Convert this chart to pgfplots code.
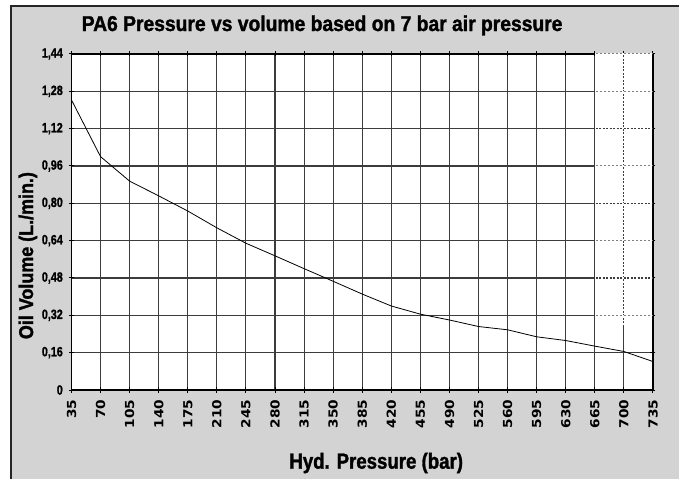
\documentclass[border=0pt]{standalone}
\usepackage{pgfplots}
\pgfplotsset{compat=1.18}
\usepackage{fontspec}
\setmainfont{Liberation Sans}
\newfontfamily\condbold{Liberation Sans Bold}[FakeStretch=0.8, FakeBold=1.2]
\newfontfamily\titlebold{Liberation Sans Bold}[FakeStretch=0.9, FakeBold=1.4]
\newfontfamily\labelbold{Liberation Sans Bold}[FakeStretch=0.85, FakeBold=1.4]
\newfontfamily\widebold{DejaVu Sans Bold}[FakeStretch=1.1]
\definecolor{bggray}{RGB}{211,211,212}
\definecolor{gridgray}{RGB}{60,60,60}
\begin{document}
\begin{tikzpicture}
\fill[white] (0bp,0bp) rectangle (679bp,479bp);
\filldraw[fill=bggray, draw=black!85, line width=2.4bp] (11bp,-20bp) rectangle (700bp,473bp);
\begin{axis}[
  at={(71.5bp,89bp)}, anchor=south west,
  scale only axis, width=581.5bp, height=336bp,
  xmin=35, xmax=735, ymin=0, ymax=1.44,
  /pgf/number format/assume math mode=true,
  axis background/.style={fill=white},
  xtick={35,70,105,140,175,210,245,280,315,350,385,420,455,490,525,560,595,630,665,700,735},
  xticklabels={35,70,105,140,175,210,245,280,315,350,385,420,455,490,525,560,595,630,665,700,735},
  ytick={0,0.16,0.32,0.48,0.64,0.80,0.96,1.12,1.28,1.44},
  yticklabels={0,{0,16},{0,32},{0,48},{0,64},{0,80},{0,96},{1,12},{1,28},{1,44}},
  grid=major,
  grid style={gridgray, line width=1.1bp},
  axis line style={black, line width=1.2bp},
  x tick style={black, line width=1bp},
  y tick style={black, line width=1bp},
  tick align=center,
  major tick length=5bp,
  xticklabel style={rotate=90, anchor=east, font=\widebold\fontsize{12.5}{12.5}\selectfont, inner sep=0pt},
  yticklabel style={font=\condbold\fontsize{13.5}{13.5}\selectfont, inner sep=0pt, xshift=-6bp},
  xticklabel shift=7bp,
  title={PA6 Pressure vs volume based on 7 bar air pressure},
  title style={font=\titlebold\fontsize{21.5}{21.5}\selectfont, at={(axis description cs:0.431,1)}, anchor=base, yshift=17bp, inner sep=0pt},
  xlabel={Hyd. Pressure (bar)},
  xlabel style={font=\labelbold\fontsize{22}{22}\selectfont, at={(axis description cs:0.524,0)}, anchor=center, yshift=-73bp, inner sep=0pt},
  ylabel={Oil Volume (L./min.)},
  ylabel style={font=\titlebold\fontsize{20}{20}\selectfont, at={(axis description cs:-0.075,0.40)}, anchor=center, inner sep=0pt},
]
% dashed grid artefact near the right edge
\draw[white, line width=1.4bp] (axis cs:700,0.27) -- (axis cs:700,1.435);
\draw[gridgray, line width=1.1bp, dash pattern=on 2bp off 1.5bp] (axis cs:700,0.27) -- (axis cs:700,1.44);
\foreach \yy in {0.32,0.64,0.96,1.28,1.44}{
  \edef\tmp{\noexpand\draw[white, line width=1.4bp] (axis cs:665.7,\yy) -- (axis cs:734.3,\yy);
  \noexpand\draw[gray, line width=1bp, dash pattern=on 2bp off 2bp] (axis cs:666,\yy) -- (axis cs:734,\yy);}\tmp
}
\foreach \yy in {0.48,0.80,1.12}{
  \edef\tmp{\noexpand\draw[white, line width=1.4bp] (axis cs:665.7,\yy) -- (axis cs:734.3,\yy);
  \noexpand\draw[gridgray, line width=1.2bp, dash pattern=on 2bp off 1.5bp] (axis cs:666,\yy) -- (axis cs:734,\yy);}\tmp
}
\addplot[black, line width=0.8bp, mark=none] coordinates {
(35,1.243) (70,1.000) (105,0.895) (140,0.832) (175,0.767) (210,0.695)
(245,0.629) (280,0.575) (315,0.520) (350,0.466) (385,0.411) (420,0.360)
(455,0.325) (490,0.300) (525,0.272) (560,0.258) (595,0.228) (630,0.212)
(665,0.188) (700,0.165) (735,0.122)
};
\end{axis}
\pgfresetboundingbox
\useasboundingbox (0bp,0bp) rectangle (679bp,479bp);
\end{tikzpicture}
\end{document}
